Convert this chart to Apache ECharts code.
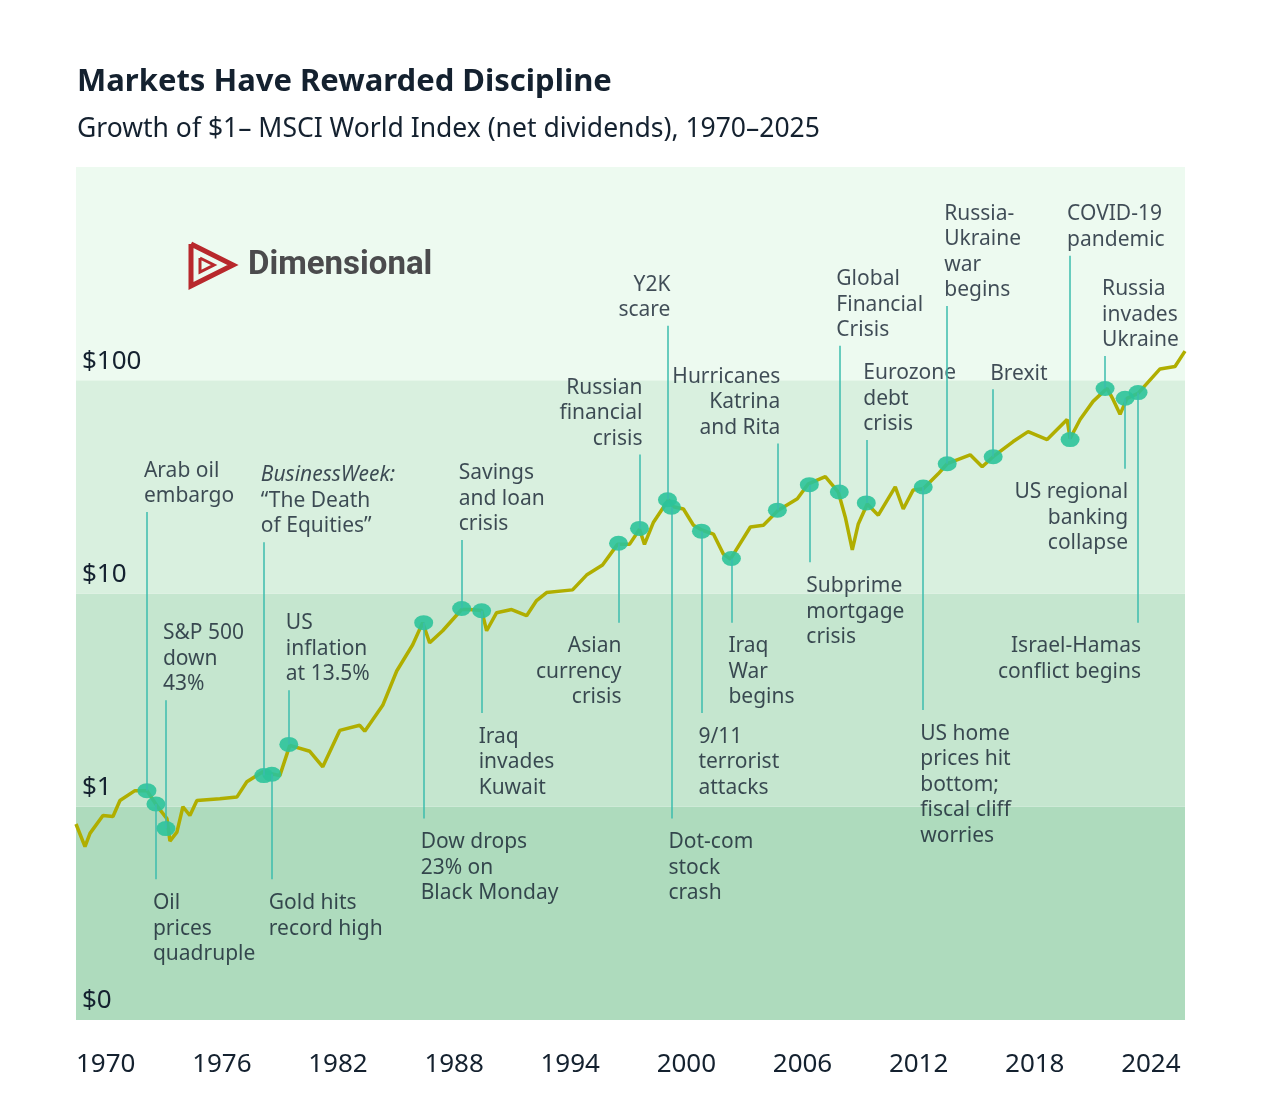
<!DOCTYPE html>
<html>
<head>
<meta charset="utf-8">
<script src="https://cdn.jsdelivr.net/npm/echarts@6/dist/echarts.min.js"></script>
<style>
  html, body { margin: 0; padding: 0; background: #fff; }
  #main { width: 1274px; height: 1093px; }
</style>
</head>
<body>
<div id="main"></div>
<script>
// Growth of $1: [year, value]
const growth = [
  [1970.0, 0.83], [1970.45, 0.65], [1970.7, 0.75], [1971.35, 0.91], [1971.85, 0.90],
  [1972.2, 1.07], [1972.95, 1.19], [1973.55, 1.19], [1974.05, 1.01], [1974.55, 0.88],
  [1974.7, 0.69], [1975.05, 0.76], [1975.35, 1.0], [1975.7, 0.91], [1976.05, 1.07],
  [1977.2, 1.09], [1978.05, 1.11], [1978.55, 1.31], [1979.35, 1.46], [1980.2, 1.40],
  [1980.7, 1.94], [1981.7, 1.82], [1982.35, 1.54], [1983.2, 2.28], [1984.2, 2.41],
  [1984.45, 2.26], [1985.35, 2.99], [1986.05, 4.33], [1986.85, 5.75], [1987.35, 7.30],
  [1987.7, 5.87], [1988.35, 6.69], [1989.3, 8.41], [1989.7, 8.41], [1990.3, 8.32],
  [1990.55, 6.69], [1991.05, 8.13], [1991.8, 8.41], [1992.55, 7.87], [1993.05, 9.27],
  [1993.55, 10.1], [1994.85, 10.4], [1995.55, 12.2], [1996.35, 13.6], [1997.1, 17.0],
  [1997.7, 17.0], [1998.2, 20.0], [1998.45, 17.0], [1998.9, 21.6], [1999.65, 27.5],
  [1999.9, 25.5], [2000.4, 24.9], [2000.9, 20.9], [2001.35, 19.8], [2001.9, 19.0],
  [2002.4, 15.3], [2002.75, 14.5], [2003.75, 20.5], [2004.4, 20.9], [2005.15, 24.6],
  [2006.1, 27.8], [2006.65, 32.7], [2007.5, 35.3], [2008.15, 29.9], [2008.5, 22.8],
  [2008.85, 16.0], [2009.15, 21.2], [2009.6, 26.3], [2010.15, 23.3], [2011.0, 31.6],
  [2011.4, 24.9], [2011.9, 30.6], [2012.4, 31.0], [2013.15, 36.4], [2013.6, 40.6],
  [2014.75, 44.7], [2015.35, 39.3], [2015.9, 43.8], [2016.9, 51.6], [2017.65, 57.4],
  [2018.6, 52.7], [2019.6, 65.5], [2019.75, 53.3], [2020.25, 65.5], [2020.9, 79.6],
  [2021.6, 91.7], [2021.9, 81.3], [2022.25, 69.2], [2022.6, 82.2], [2023.15, 86.8],
  [2024.25, 113], [2025.0, 116], [2025.5, 137]
];

// events: [year, value at marker, value at end of leader line, label text, text align]
const events = [
  [1973.55, 1.19, 24.1, "Arab oil\nembargo", "left"],
  [1974.0, 1.03, 0.457, "Oil\nprices\nquadruple", "left"],
  [1974.5, 0.79, 3.16, "S&P 500\ndown\n43%", "left"],
  [1979.8, 1.42, 0.457, "Gold hits\nrecord high", "left"],
  [1979.4, 1.40, 17.4, "{i|BusinessWeek:}\n“The Death\nof Equities”", "left"],
  [1980.65, 1.96, 3.52, "US\ninflation\nat 13.5%", "left"],
  [1987.4, 7.3, 0.88, "Dow drops\n23% on\nBlack Monday", "left"],
  [1989.3, 8.5, 17.8, "Savings\nand loan\ncrisis", "left"],
  [1990.3, 8.3, 2.75, "Iraq\ninvades\nKuwait", "left"],
  [1997.15, 17.2, 7.3, "Asian\ncurrency\ncrisis", "right"],
  [1998.2, 20.2, 44.8, "Russian\nfinancial\ncrisis", "right"],
  [1999.6, 27.5, 180, "Y2K\nscare", "right"],
  [1999.8, 25.4, 0.88, "Dot-com\nstock\ncrash", "left"],
  [2001.3, 19.6, 2.75, "9/11\nterrorist\nattacks", "left"],
  [2002.8, 14.6, 7.3, "Iraq\nWar\nbegins", "left"],
  [2005.1, 24.6, 50.5, "Hurricanes\nKatrina\nand Rita", "right"],
  [2006.7, 32.4, 14.0, "Subprime\nmortgage\ncrisis", "left"],
  [2008.2, 29.9, 145, "Global\nFinancial\nCrisis", "left"],
  [2009.55, 26.6, 52.5, "Eurozone\ndebt\ncrisis", "left"],
  [2012.4, 31.6, 2.84, "US home\nprices hit\nbottom;\nfiscal cliff\nworries", "left"],
  [2013.6, 40.6, 223, "Russia-\nUkraine\nwar\nbegins", "left"],
  [2015.9, 43.8, 90.7, "Brexit", "left"],
  [2019.75, 52.7, 384, "COVID-19\npandemic", "left"],
  [2022.5, 82.4, 38.5, "US regional\nbanking\ncollapse", "right"],
  [2021.5, 91.5, 130, "Russia\ninvades\nUkraine", "left"],
  [2023.15, 87.5, 7.3, "Israel-Hamas\nconflict begins", "right"]
];

const yearTicks = ["1970", "1976", "1982", "1988", "1994", "2000", "2006", "2012", "2018", "2024"];
const dollarTicks = { 0.1: "$0", 1: "$1", 10: "$10", 100: "$100" };

const textColor = "#14212f";
const teal = "#2cc39a";
const leader = "#3bbcae";

const chart = echarts.init(document.getElementById("main"));

const labelData = events.map((e) => {
  const up = e[2] > e[1];
  return {
    value: [e[0], e[2]],
    label: {
      formatter: e[3],
      position: up ? "top" : "bottom",
      align: e[4],
      offset: [e[4] === "left" ? -3 : 3, up ? 2 : 6]
    }
  };
});

const leaderLines = events.map((e) => [
  { coord: [e[0], e[1]] },
  { coord: [e[0], e[2]] }
]);

const option = {
  backgroundColor: "#ffffff",
  animation: false,
  title: {
    text: "Markets Have Rewarded Discipline",
    subtext: "Growth of $1– MSCI World Index (net dividends), 1970–2025",
    left: 72,
    top: 62,
    itemGap: 18,
    textStyle: { fontFamily: "Noto Sans", fontSize: 31, fontWeight: "bold", color: textColor },
    subtextStyle: { fontFamily: "Noto Sans", fontSize: 26.5, color: textColor }
  },
  graphic: [
    {
      type: "polyline",
      z: 100,
      shape: { points: [[191, 244], [191, 286], [233, 265], [191, 244]] },
      style: { stroke: "#b8282c", lineWidth: 5, fill: null, lineJoin: "miter" }
    },
    {
      type: "polyline",
      z: 100,
      shape: { points: [[200, 258], [200, 272], [214, 265], [200, 258]] },
      style: { stroke: "#b8282c", lineWidth: 3, fill: null }
    },
    {
      type: "text",
      z: 100,
      x: 248,
      y: 249,
      style: {
        text: "Dimensional",
        font: "bold 33px Roboto, sans-serif",
        fill: "#4b4b4d"
      }
    }
  ],
  grid: { left: 76, right: 89, top: 167, bottom: 73 },
  xAxis: [
    {
      type: "value",
      min: 1970,
      max: 2025.5,
      axisLine: { show: false },
      axisTick: { show: false },
      axisLabel: { show: false },
      splitLine: { show: false }
    },
    {
      type: "value",
      position: "bottom",
      min: 0,
      max: 9.55,
      interval: 1,
      axisLine: { show: false },
      axisTick: { show: false },
      splitLine: { show: false },
      axisLabel: {
        showMaxLabel: false,
        align: "left",
        margin: 32,
        fontFamily: "Noto Sans",
        fontSize: 26,
        color: textColor,
        formatter: (v) => yearTicks[Math.round(v)] || ""
      }
    }
  ],
  yAxis: {
    type: "log",
    min: 0.1,
    max: 1000,
    logBase: 10,
    axisLine: { show: false },
    axisTick: { show: false },
    splitLine: { show: false },
    splitArea: {
      show: true,
      areaStyle: { color: ["#aedbbd", "#c5e6cf", "#d9f0df", "#edfaf0"] }
    },
    axisLabel: {
      inside: true,
      showMaxLabel: false,
      margin: 6,
      verticalAlign: "bottom",
      padding: [0, 0, 6, 0],
      fontFamily: "Noto Sans",
      fontSize: 26,
      color: textColor,
      formatter: (v) => dollarTicks[v] || ""
    }
  },
  series: [
    {
      type: "scatter",
      data: labelData,
      symbolSize: 0,
      silent: true,
      z: 2,
      label: {
        show: true,
        fontFamily: "Noto Sans",
        fontSize: 21,
        lineHeight: 25.5,
        color: textColor,
        rich: { i: { fontStyle: "italic", fontFamily: "Noto Sans", fontSize: 21, lineHeight: 25.5, color: textColor } }
      },
      markLine: {
        silent: true,
        symbol: "none",
        label: { show: false },
        lineStyle: { color: leader, width: 1.5, type: "solid" },
        data: leaderLines
      }
    },
    {
      type: "line",
      data: growth,
      showSymbol: false,
      lineStyle: { color: "#b0ae00", width: 3.5 },
      z: 3
    },
    {
      type: "scatter",
      data: events.map((e) => [e[0], e[1]]),
      symbol: "circle",
      symbolSize: [19, 15],
      itemStyle: { color: teal, opacity: 0.9 },
      z: 4
    }
  ]
};

chart.setOption(option);
</script>
</body>
</html>
